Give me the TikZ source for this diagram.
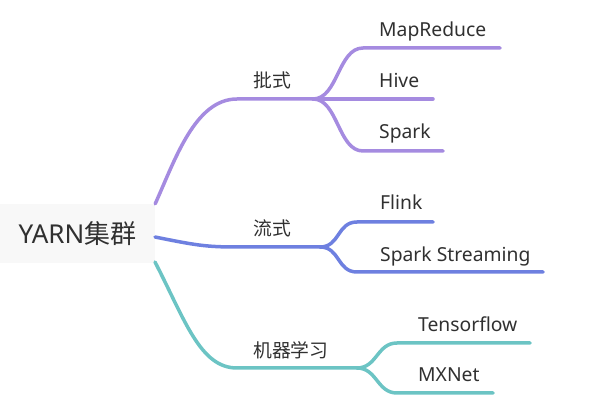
\documentclass[tikz,border=0pt]{standalone}
\usepackage{fontspec}
\setmainfont{Noto Sans}
\newfontfamily\cjk{Noto Sans CJK SC}
\definecolor{batchc}{HTML}{A58BE0}
\definecolor{streamc}{HTML}{6E80E0}
\definecolor{mlc}{HTML}{6CC4C4}
\definecolor{rootfill}{HTML}{F8F8F8}
\definecolor{textc}{HTML}{303030}
\tikzset{
  branch/.style={line width=3.5pt, line cap=round},
  leaf/.style={anchor=base west, inner sep=0pt, text=textc,
    font=\fontsize{19.3}{21}\selectfont},
  cat/.style={anchor=west, inner sep=0pt, text=textc,
    font=\fontsize{18.8}{20}\selectfont\cjk},
}
\begin{document}
\begin{tikzpicture}[x=1pt,y=-1pt]
      \useasboundingbox (0,0) rectangle (597,419);
      \node[fill=rootfill, inner sep=0pt, minimum width=155pt, minimum height=59pt,
        text=textc, font=\fontsize{26}{28}\selectfont] (root) at (77.5,233.5) {YARN{\cjk 集群}};
      \coordinate (s1) at (155,237);
      \coordinate (s2) at (155,262);
      \coordinate (jb) at (313,99);
      \coordinate (js) at (320,247);
      \coordinate (jm) at (357,368);
      \coordinate (e1) at (500,48);
      \coordinate (e2) at (433,99);
      \coordinate (e3) at (443,151);
      \coordinate (e4) at (433,222);
      \coordinate (e5) at (543,272);
      \coordinate (e6) at (530,343);
      \coordinate (e7) at (493,393);
      \draw
        (253,80.5) node[cat] (batch){批式}
        (253,228) node[cat] (stream){流式}
        (253,350) node[cat] (ml){机器学习}
        (379,37) node[leaf] (mapreduce){MapReduce}
        (379,88) node[leaf] (hive){Hive}
        (379,139) node[leaf] (spark){Spark}
        (380,210) node[leaf] (flink){Flink}
        (380,262) node[leaf] (sparkstreaming){Spark Streaming}
        (418,332) node[leaf] (tensorflow){Tensorflow}
        (418,382) node[leaf] (mxnet){MXNet};
      \begin{scope}[branch, batchc]
        \draw (root.north east) .. controls (175,160) and (195,99) .. (237,99) -- (jb);
        \draw (jb) .. controls (338,99) and (338,48) .. (363,48) -- (e1);
        \draw (jb) -- (e2);
        \draw (jb) .. controls (338,99) and (338,151) .. (363,151) -- (e3);
      \end{scope}
      \begin{scope}[branch, streamc]
        \draw (s1) .. controls (195,245) and (205,247) .. (237,247) -- (js);
        \draw (js) .. controls (340,247) and (337,222) .. (357,222) -- (e4);
        \draw (js) .. controls (340,247) and (337,272) .. (357,272) -- (e5);
      \end{scope}
      \begin{scope}[branch, mlc]
        \draw (s2) .. controls (185,320) and (200,368) .. (237,368) -- (jm);
        \draw (jm) .. controls (377,368) and (377,343) .. (397,343) -- (e6);
        \draw (jm) .. controls (377,368) and (377,393) .. (397,393) -- (e7);
      \end{scope}
    \end{tikzpicture}
\end{document}
